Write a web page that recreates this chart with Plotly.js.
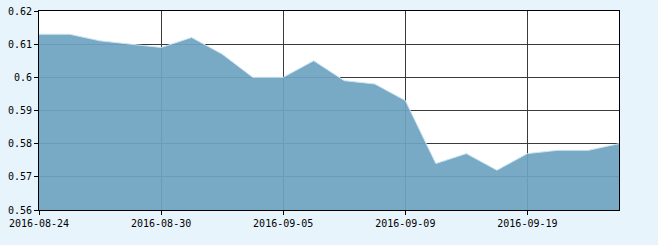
<!DOCTYPE html>
<html>
<head>
<meta charset="utf-8">
<script src="https://cdn.plot.ly/plotly-3.0.1.min.js"></script>
<style>html,body{margin:0;padding:0;background:#e8f4fc;}#chart{width:658px;height:245px;}</style>
</head>
<body>
<div id="chart"></div>
<script>
const dates = ["2016-08-24","2016-08-25","2016-08-26","2016-08-29","2016-08-30","2016-08-31","2016-09-01","2016-09-02","2016-09-05","2016-09-06","2016-09-07","2016-09-08","2016-09-09","2016-09-12","2016-09-13","2016-09-14","2016-09-19","2016-09-20","2016-09-21","2016-09-22"];
const values = [0.613,0.613,0.611,0.610,0.609,0.612,0.607,0.600,0.600,0.605,0.599,0.598,0.593,0.574,0.577,0.572,0.577,0.578,0.578,0.580];
const xTickLabels = ["2016-08-24","2016-08-30","2016-09-05","2016-09-09","2016-09-19"];
const yTickVals = [0.56,0.57,0.58,0.59,0.60,0.61,0.62];
const yTickText = ["0.56","0.57","0.58","0.59","0.6","0.61","0.62"];

const font = {family: "DejaVu Sans Mono, monospace", size: 10, color: "#000"};
Plotly.newPlot("chart", [{
  x: dates, y: values, type: "scatter", mode: "lines",
  fill: "tozeroy",
  fillcolor: "rgba(110,164,194,0.93)",
  line: {color: "rgba(205,228,242,1)", width: 1},
  hoverinfo: "none"
}], {
  width: 658, height: 245,
  margin: {l: 39, r: 39, t: 11, b: 35},
  paper_bgcolor: "#e8f4fc",
  plot_bgcolor: "#ffffff",
  showlegend: false,
  font: font,
  xaxis: {
    type: "category", range: [0, 19],
    tickmode: "array", tickvals: xTickLabels, ticktext: xTickLabels,
    showgrid: true, gridcolor: "#3a3a3a", gridwidth: 1,
    showline: true, linecolor: "#000", linewidth: 1, mirror: true,
    ticks: "outside", ticklen: 4, tickcolor: "#000", tickfont: font,
    zeroline: false
  },
  yaxis: {
    range: [0.56, 0.62],
    tickmode: "array", tickvals: yTickVals, ticktext: yTickText,
    showgrid: true, gridcolor: "#3a3a3a", gridwidth: 1,
    showline: true, linecolor: "#000", linewidth: 1, mirror: true,
    ticks: "outside", ticklen: 4, tickcolor: "#000", tickfont: font,
    zeroline: false
  }
}, {staticPlot: true});
</script>
</body>
</html>
